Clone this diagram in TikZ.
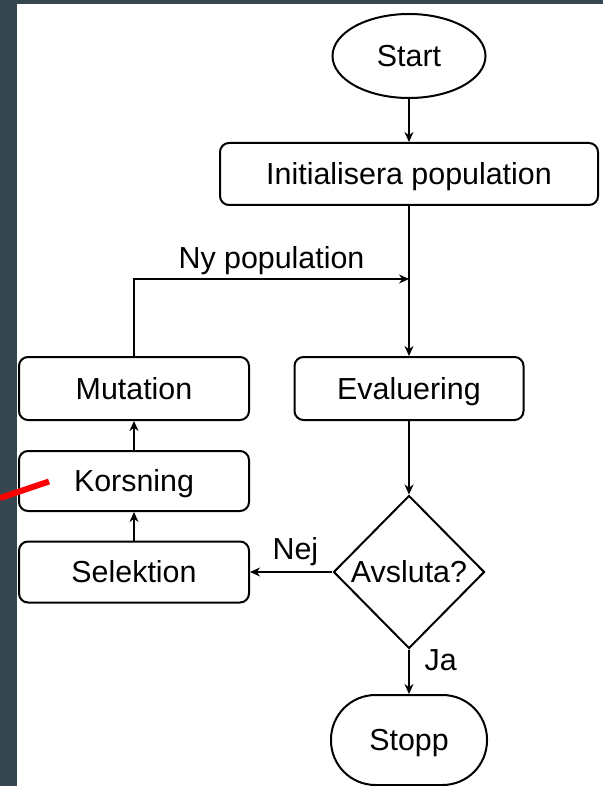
\documentclass[tikz,border=0pt]{standalone}
\usepackage{fontspec}
\setmainfont{Liberation Sans}
\usepackage{tikz}
\usetikzlibrary{arrows.meta, shapes.geometric, positioning}
\definecolor{slate}{HTML}{37474F}

\begin{document}
\begin{tikzpicture}[x=1pt, y=-1pt,
  every node/.style={font=\fontsize{30.4}{36}\selectfont},
  box/.style={draw, line width=2pt, rounded corners=9pt, inner sep=0pt, text height=21.8pt, text depth=0pt, minimum height=62pt},
  terminal/.style={draw, line width=2pt, ellipse, inner sep=0pt, text height=21.8pt, text depth=0pt, minimum width=153pt, minimum height=84pt},
  endbox/.style={draw, line width=2pt, rounded corners=44.5pt, inner sep=0pt, text height=21.8pt, text depth=0pt, minimum width=156pt, minimum height=90pt},
  decision/.style={draw, line width=2pt, diamond, inner sep=0pt, text height=21.8pt, text depth=0pt, minimum width=151pt, minimum height=153pt},
  flow/.style={-{Stealth[length=10pt, width=9pt]}, line width=1.3pt},
  lbl/.style={inner sep=0pt}]

% Frame
\fill[slate] (0,0) rectangle (603,786);
\fill[white] (17,4) rectangle (603,786);
\useasboundingbox (0,0) rectangle (603,786);

% Main column
\node[terminal] (start) at (409,56) {Start};
\node[box, minimum width=378pt] (init) at (409,174) {Initialisera population};
\node[box, minimum width=229pt, minimum height=63pt] (eval) at (409,388.5) {Evaluering};
\node[decision] (avsluta) at (409,572) {Avsluta?};
\node[endbox] (stopp) at (409,740) {Stopp};

% Left column
\node[box, minimum width=230pt, minimum height=63pt] (mutation) at (134,388.5) {Mutation};
\node[box, minimum width=230pt, minimum height=60pt] (korsning) at (134,481) {Korsning};
\node[box, minimum width=230pt, minimum height=61pt] (selektion) at (134,572) {Selektion};

% Connectors
\coordinate (join) at (409,279);
\draw[flow] (start) -- (init);
\draw[flow] (init) -- (eval);
\draw[flow] (eval) -- (avsluta);
\draw[flow] (avsluta) -- node[lbl, above=5.2pt, pos=0.45] {Nej} (selektion);
\draw[flow] (avsluta) -- node[lbl, right=15pt, pos=0.25] {Ja} (stopp);
\draw[flow] (selektion) -- (korsning);
\draw[flow] (korsning) -- (mutation);
\draw[flow] (mutation.north) |- (join) node[lbl, above=3.6pt, pos=0.75] {Ny population};

% Red mark
\coordinate (mark start) at (0,498);
\coordinate (mark end) at (49,481.5);
\draw[red, line width=6pt] (mark start) -- (mark end);

\end{tikzpicture}
\end{document}
